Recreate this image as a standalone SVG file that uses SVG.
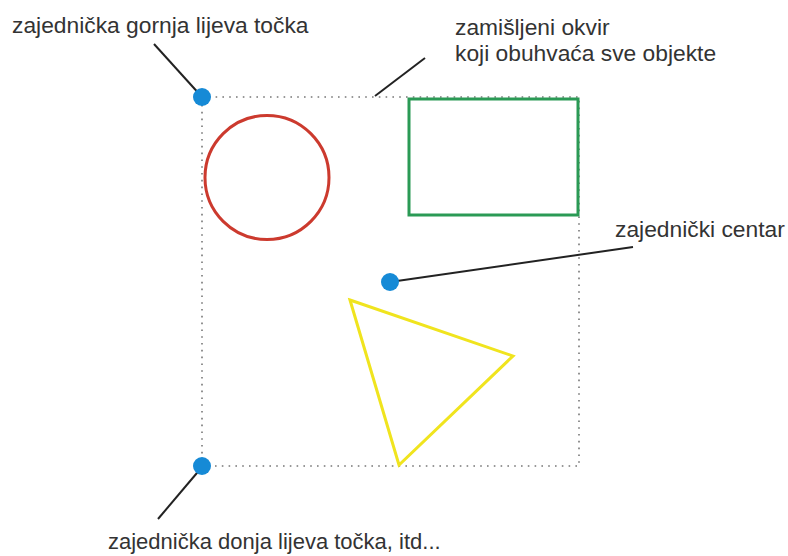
<svg xmlns="http://www.w3.org/2000/svg" width="788" height="556" viewBox="0 0 788 556">
<style>
text{font-family:"Liberation Sans",Arial,sans-serif;font-size:22.8px;fill:#333}
text.small{font-size:22px}
.frame{fill:none;stroke:#777;stroke-width:1.6;stroke-dasharray:1.6 5.2}
.lead{stroke:#222;stroke-width:2;fill:none}
.dot{fill:#168ad6}
</style>
<rect width="788" height="556" fill="#fff"/>
<g id="frame"><rect class="frame" x="202" y="97" width="377" height="369"/></g>
<g id="circle"><circle cx="267" cy="177.5" r="62" fill="none" stroke="#cc3a2e" stroke-width="3"/></g>
<g id="rectangle"><rect x="409" y="99" width="169" height="116" fill="none" stroke="#2a9a55" stroke-width="3"/></g>
<g id="triangle"><polygon points="350,300 513,356 399,465" fill="none" stroke="#f0e41e" stroke-width="3" stroke-linejoin="miter"/></g>
<g id="connectors">
<line class="lead" x1="154" y1="44" x2="202" y2="97"/>
<line class="lead" x1="425" y1="58" x2="375" y2="96"/>
<line class="lead" x1="633" y1="247" x2="390" y2="282"/>
<line class="lead" x1="158" y1="519" x2="202" y2="467"/>
</g>
<g id="topleft"><circle class="dot" cx="202" cy="97" r="9"/><text x="12" y="33">zajednička gornja lijeva točka</text></g>
<g id="framelabel"><text x="455" y="35">zamišljeni okvir</text><text x="455" y="61">koji obuhvaća sve objekte</text></g>
<g id="center"><circle class="dot" cx="390" cy="282" r="9"/><text x="615" y="237">zajednički centar</text></g>
<g id="bottomleft"><circle class="dot" cx="202" cy="466" r="9"/><text class="small" x="108" y="549">zajednička donja lijeva točka, itd...</text></g>
</svg>
